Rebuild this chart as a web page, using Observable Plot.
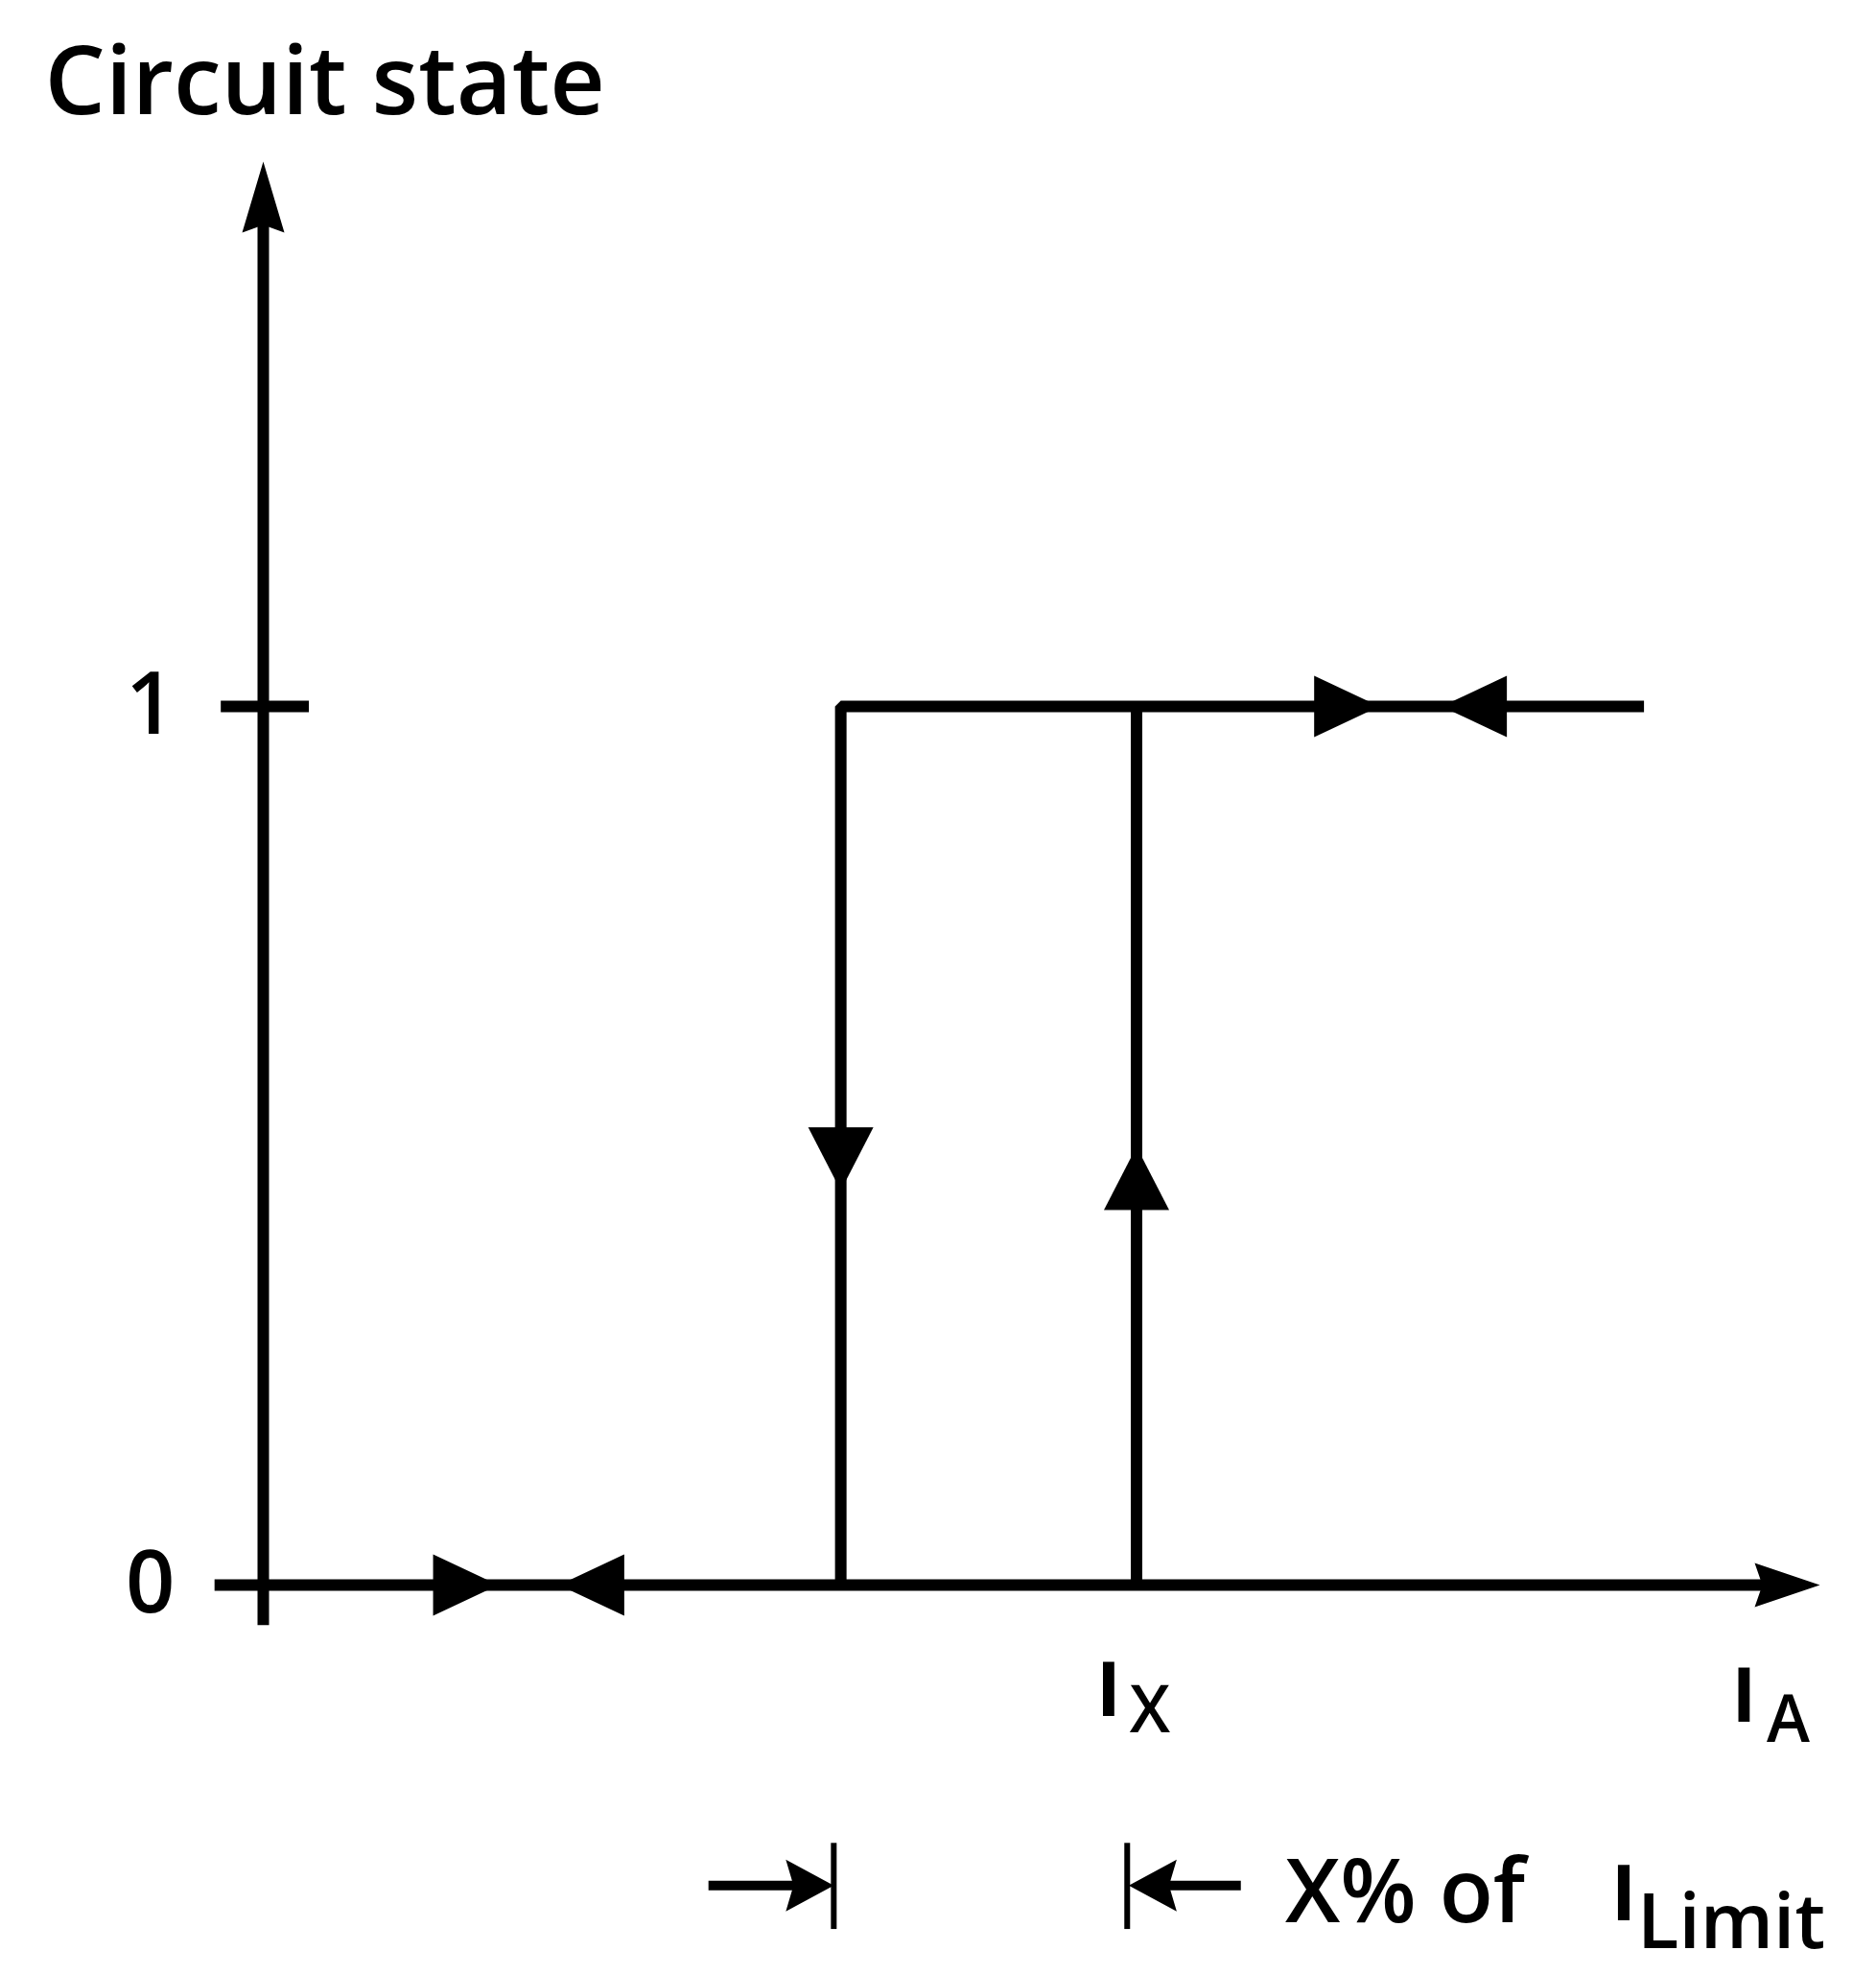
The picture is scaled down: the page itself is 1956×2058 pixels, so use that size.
<!DOCTYPE html>
<html><head><meta charset="utf-8">
<script src="https://cdn.jsdelivr.net/npm/d3@7"></script>
<script src="https://cdn.jsdelivr.net/npm/@observablehq/plot@0.6"></script>
<style>
html,body{margin:0;padding:0;background:#fff;}
#chart{width:1956px;height:2058px;}
svg{display:block;}
</style></head><body><div id="chart"></div>
<script>
// ---- data ----
const title = "Circuit state";
const stateTicks = [0, 1];
const stateTickLabels = ["0", "1"];
const iOff = 37.1;      // switch-off threshold (falling current)
const iX = 56.1;        // switch-on threshold I_X
const iAxisEnd = 100;   // end of I_A axis
const loopEnd = 88.7;   // end of drawn "on" branch
const xAxisStart = -3.1;
const yAxisTop = 1.62;
const yAxisBottom = -0.046;
const bracketY = -0.342;
const bracketBar = [-0.294, -0.392];
const bracketLeftStart = 28.6;
const bracketRightEnd = 62.8;
// direction arrows on the hysteresis loop (tip positions)
const arrowsRight = [{x: 15.1, y: 0}, {x: 71.7, y: 1}];
const arrowsLeft = [{x: 19.0, y: 0}, {x: 75.7, y: 1}];
const arrowsDown = [{x: iOff, y: 0.449}];
const arrowsUp = [{x: iX, y: 0.499}];

// ---- symbols (tip at origin) ----
function headSym(len, hw, notch, angle) {
  const c = Math.cos(angle * Math.PI / 180), s = Math.sin(angle * Math.PI / 180);
  const P = (x, y) => [x * c - y * s, x * s + y * c];
  return {draw(ctx) {
    const pts = [P(0, 0), P(-len, -hw), P(-len + notch, 0), P(-len, hw)];
    ctx.moveTo(...pts[0]); for (let i = 1; i < pts.length; i++) ctx.lineTo(...pts[i]); ctx.closePath();
  }};
}
const triR = headSym(68, 32, 0, 0), triL = headSym(68, 32, 0, 180),
      triD = headSym(66, 34, 0, 90), triU = headSym(66, 34, 0, -90);
const axisHeadUp = headSym(74, 22, 8, -90), axisHeadRight = headSym(68, 23, 8, 0);
const smallR = headSym(50, 27, 8, 0), smallL = headSym(50, 27, 8, 180);

const font = "'Open Sans', 'DejaVu Sans', sans-serif";
const SW = 12;

const chart = Plot.plot({
  width: 1956, height: 2058, margin: 0,
  x: {domain: [0, iAxisEnd], range: [274, 1897], axis: null},
  y: {domain: [0, 1], range: [1652, 736], axis: null},
  style: {fontFamily: font, background: "#fff", color: "#000"},
  marks: [
    // y axis
    Plot.ruleX([0], {y1: yAxisBottom, y2: yAxisTop - 0.05, strokeWidth: SW}),
    Plot.dot([{x: 0, y: yAxisTop}], {x: "x", y: "y", symbol: axisHeadUp, fill: "#000", stroke: "none"}),
    // x axis (state 0 line)
    Plot.ruleY([0], {x1: xAxisStart, x2: iAxisEnd - 3, strokeWidth: SW}),
    Plot.dot([{x: iAxisEnd, y: 0}], {x: "x", y: "y", symbol: axisHeadRight, fill: "#000", stroke: "none"}),
    // tick at state 1
    Plot.ruleY([1], {x1: -2.7, x2: 2.96, strokeWidth: SW}),
    Plot.text(stateTicks, {x: 0, y: d => d, text: (d, i) => stateTickLabels[i], dx: -92, textAnchor: "end", lineAnchor: "middle", fontSize: 90, fontWeight: 600}),
    // hysteresis loop
    Plot.line([{x: iOff, y: 0}, {x: iOff, y: 1}, {x: loopEnd, y: 1}], {x: "x", y: "y", strokeWidth: SW, strokeLinejoin: "miter", strokeLinecap: "butt"}),
    Plot.ruleX([iX], {y1: 0, y2: 1, strokeWidth: SW}),
    Plot.dot(arrowsRight, {x: "x", y: "y", symbol: triR, fill: "#000", stroke: "none"}),
    Plot.dot(arrowsLeft, {x: "x", y: "y", symbol: triL, fill: "#000", stroke: "none"}),
    Plot.dot(arrowsDown, {x: "x", y: "y", symbol: triD, fill: "#000", stroke: "none"}),
    Plot.dot(arrowsUp, {x: "x", y: "y", symbol: triU, fill: "#000", stroke: "none"}),
    // I_X and I_A labels
    Plot.text([iX], {x: d => d, y: 0, text: ["I"], dx: -29, dy: 112, fontSize: 78, fontWeight: 700, lineAnchor: "middle"}),
    Plot.text([iX], {x: d => d, y: 0, text: ["X"], dx: 14, dy: 132, fontSize: 68, fontWeight: 600, lineAnchor: "middle"}),
    Plot.text([iAxisEnd], {x: d => d, y: 0, text: ["I"], dx: -79, dy: 118, fontSize: 78, fontWeight: 700, lineAnchor: "middle"}),
    Plot.text([iAxisEnd], {x: d => d, y: 0, text: ["A"], dx: -33, dy: 142, fontSize: 68, fontWeight: 600, lineAnchor: "middle"}),
    // X% bracket
    Plot.ruleX([iOff - 0.45, iX - 0.6], {y1: bracketBar[0], y2: bracketBar[1], strokeWidth: 6}),
    Plot.link([{x1: bracketLeftStart, x2: iOff - 2}], {x1: "x1", x2: "x2", y1: bracketY, y2: bracketY, strokeWidth: 10}),
    Plot.dot([{x: iOff - 0.45, y: bracketY}], {x: "x", y: "y", symbol: smallR, fill: "#000", stroke: "none"}),
    Plot.link([{x1: iX + 1.5, x2: bracketRightEnd}], {x1: "x1", x2: "x2", y1: bracketY, y2: bracketY, strokeWidth: 10}),
    Plot.dot([{x: iX - 0.5, y: bracketY}], {x: "x", y: "y", symbol: smallL, fill: "#000", stroke: "none"}),
    Plot.text([iX], {x: d => d, y: bracketY, text: ["X% of"], dx: 155, dy: 9, textAnchor: "start", lineAnchor: "middle", fontSize: 92, fontWeight: 600, letterSpacing: -2}),
    Plot.text([iX], {x: d => d, y: bracketY, text: ["I"], dx: 508, dy: 11, lineAnchor: "middle", fontSize: 80, fontWeight: 700}),
    Plot.text([iX], {x: d => d, y: bracketY, text: ["Limit"], dx: 522, dy: 40, textAnchor: "start", lineAnchor: "middle", fontSize: 80, fontWeight: 600, letterSpacing: 4}),
    // title
    Plot.text([title], {frameAnchor: "top-left", dx: 46, dy: 86, textAnchor: "start", lineAnchor: "middle", fontSize: 100, fontWeight: 600})
  ]
});
document.getElementById("chart").appendChild(chart);
</script></body></html>
